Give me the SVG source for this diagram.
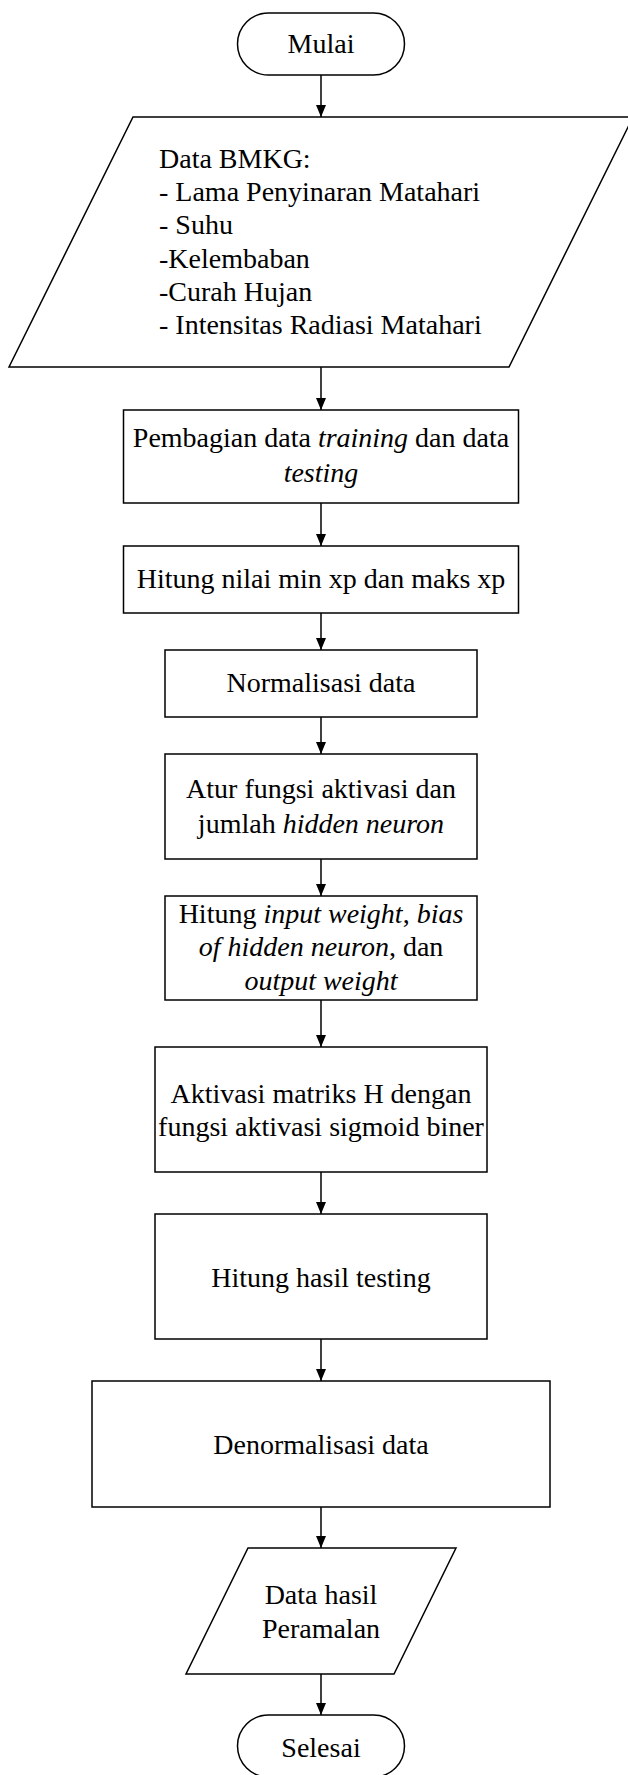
<svg xmlns="http://www.w3.org/2000/svg" width="628" height="1775" viewBox="0 0 628 1775">
<style>
.s{fill:#fff;stroke:#000;stroke-width:1.5}
.t{font-family:"Liberation Serif","Times New Roman",serif;font-size:28px;fill:#000}
.c{text-anchor:middle}
.c line{stroke:#000;stroke-width:1.5}
.e{stroke:#000;stroke-width:1.5;fill:none;marker-end:url(#ah)}
</style>
<defs>
<marker id="ah" markerUnits="userSpaceOnUse" markerWidth="12" markerHeight="12" viewBox="0 0 12 12" refX="12" refY="6" orient="auto">
<path d="M0,1 L12,6 L0,11 Z" fill="#000"/>
</marker>
</defs>
<rect width="628" height="1775" fill="#fff"/>
<g id="connectors">
<line class="e" x1="321" y1="75" x2="321" y2="117"/>
<line class="e" x1="321" y1="367" x2="321" y2="410"/>
<line class="e" x1="321" y1="503" x2="321" y2="546"/>
<line class="e" x1="321" y1="613" x2="321" y2="650"/>
<line class="e" x1="321" y1="717" x2="321" y2="754"/>
<line class="e" x1="321" y1="859" x2="321" y2="896"/>
<line class="e" x1="321" y1="1000" x2="321" y2="1047"/>
<line class="e" x1="321" y1="1172" x2="321" y2="1214"/>
<line class="e" x1="321" y1="1339" x2="321" y2="1381"/>
<line class="e" x1="321" y1="1507" x2="321" y2="1548"/>
<line class="e" x1="321" y1="1674" x2="321" y2="1715"/>
</g>
<g id="mulai">
<rect class="s" x="237.5" y="13" width="167" height="62" rx="31" ry="31"/>
<text class="t c" x="321" y="53">Mulai</text>
</g>
<g id="data-bmkg">
<polygon class="s" points="133,117 633,117 509,367 9,367"/>
<text class="t" x="159" y="168">Data BMKG:</text>
<text class="t" x="159" y="201">- Lama Penyinaran Matahari</text>
<text class="t" x="159" y="234">- Suhu</text>
<text class="t" x="159" y="267.5">-Kelembaban</text>
<text class="t" x="159" y="300.5">-Curah Hujan</text>
<text class="t" x="159" y="334">- Intensitas Radiasi Matahari</text>
</g>
<g id="pembagian">
<rect class="s" x="123.5" y="410" width="395" height="93"/>
<text class="t c" x="321" y="447">Pembagian data <tspan font-style="italic">training</tspan> dan data</text>
<text class="t c" x="321" y="481.5" font-style="italic">testing</text>
</g>
<g id="minmax">
<rect class="s" x="123.5" y="546" width="395" height="67"/>
<text class="t c" x="321" y="588">Hitung nilai min xp dan maks xp</text>
</g>
<g id="normalisasi">
<rect class="s" x="165" y="650" width="312" height="67"/>
<text class="t c" x="321" y="692">Normalisasi data</text>
</g>
<g id="atur">
<rect class="s" x="165" y="754" width="312" height="105"/>
<text class="t c" x="321" y="798">Atur fungsi aktivasi dan</text>
<text class="t c" x="321" y="832.5">jumlah <tspan font-style="italic">hidden neuron</tspan></text>
</g>
<g id="hitung-weight">
<rect class="s" x="165" y="896" width="312" height="104"/>
<text class="t c" x="321" y="923">Hitung <tspan font-style="italic">input weight</tspan>, <tspan font-style="italic">bias</tspan></text>
<text class="t c" x="321" y="956"><tspan font-style="italic">of hidden neuron</tspan>, dan</text>
<text class="t c" x="321" y="989.5" font-style="italic">output weight</text>
</g>
<g id="aktivasi">
<rect class="s" x="155" y="1047" width="332" height="125"/>
<text class="t c" x="321" y="1102.5">Aktivasi matriks H dengan</text>
<text class="t c" x="321" y="1136">fungsi aktivasi sigmoid biner</text>
</g>
<g id="hasil-testing">
<rect class="s" x="155" y="1214" width="332" height="125"/>
<text class="t c" x="321" y="1286.5">Hitung hasil testing</text>
</g>
<g id="denormalisasi">
<rect class="s" x="92" y="1381" width="458" height="126"/>
<text class="t c" x="321" y="1453.5">Denormalisasi data</text>
</g>
<g id="data-hasil">
<polygon class="s" points="248,1548 456,1548 394,1674 186,1674"/>
<text class="t c" x="321" y="1603.5">Data hasil</text>
<text class="t c" x="321" y="1637.5">Peramalan</text>
</g>
<g id="selesai">
<rect class="s" x="237.5" y="1715" width="167" height="62" rx="31" ry="31"/>
<text class="t c" x="321" y="1757">Selesai</text>
</g>
</svg>
